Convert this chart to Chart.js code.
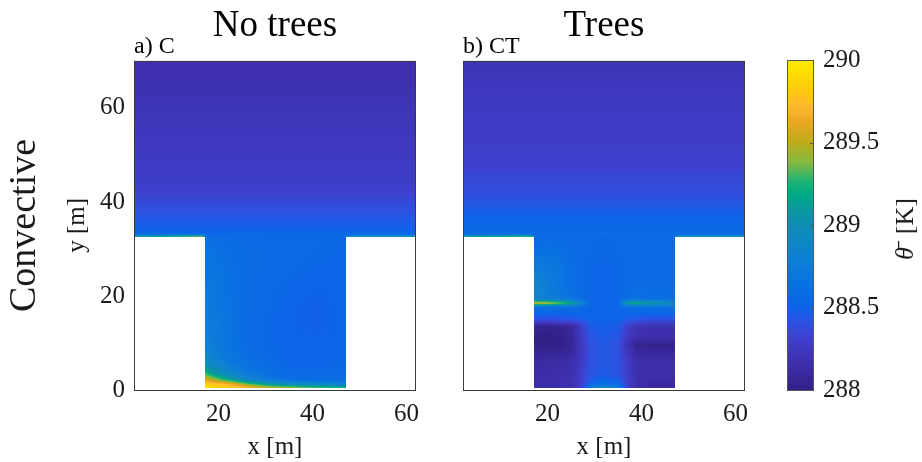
<!DOCTYPE html>
<html>
<head>
<meta charset="utf-8">
<script src="https://cdn.jsdelivr.net/npm/chart.js@4.4.0/dist/chart.umd.min.js"></script>
<style>
html, body { margin: 0; padding: 0; background: #fff; }
#wrap { position: relative; width: 922px; height: 462px; overflow: hidden; }
#wrap canvas { position: absolute; left: 0; top: 0; }
#cblabel { position: absolute; left: 905px; top: 229px; transform: translate(-50%, -50%) rotate(-90deg);
  font: 26px 'Liberation Serif', serif; color: #1a1a1a; white-space: nowrap; }
</style>
</head>
<body>
<div id="wrap">
  <canvas id="panelC" width="922" height="462"></canvas>
  <canvas id="panelCT" width="922" height="462"></canvas>
  <canvas id="colorbar" width="922" height="462"></canvas>
  <div id="cblabel"><i>θ̄</i>&nbsp; [K]</div>
</div>
<script>
// --- data (potential temperature, K) ---
const xTicks = [20, 40, 60];
const yTicks = [0, 20, 40, 60];
const cbTicks = [288, 288.5, 289, 289.5, 290];

// above roof level (y from 32.5 to 70 m), full width
const upperX = [2, 16.5, 17.5, 32, 46.5, 47.5, 62];
const upperY = [32.5, 33.2, 34, 35.5, 37, 39, 41, 44, 48, 53, 58, 63, 67, 70];
const roofC  = [289.2, 289.55, 288.55, 288.55, 288.55, 289.0, 289.1];
const roofCT = [289.25, 289.45, 288.55, 288.55, 288.55, 289.05, 289.1];
const profileC  = [288.55, 288.49, 288.46, 288.43, 288.38, 288.33, 288.29, 288.27, 288.24, 288.22, 288.19, 288.17, 288.17];
const profileCT = [288.57, 288.54, 288.52, 288.49, 288.45, 288.4, 288.36, 288.31, 288.28, 288.27, 288.25, 288.22, 288.2];

// street canyon, no trees
const canyonXC = [17, 19, 22, 26, 31, 36, 41, 45, 47];
const canyonYC = [0.5, 1.2, 2.2, 3.5, 5, 7, 10, 14, 18, 22, 26, 30, 32.5];
const canyonC = [
  [289.95, 289.9, 289.85, 289.7, 289.5, 289.4, 289.3, 289.25, 289.2],
  [289.9, 289.8, 289.7, 289.4, 289.1, 288.95, 288.9, 288.85, 288.8],
  [289.6, 289.45, 289.2, 288.9, 288.7, 288.62, 288.6, 288.6, 288.6],
  [289.3, 289.1, 288.9, 288.72, 288.6, 288.55, 288.55, 288.55, 288.55],
  [289.05, 288.92, 288.78, 288.65, 288.57, 288.53, 288.53, 288.53, 288.55],
  [288.88, 288.8, 288.7, 288.6, 288.55, 288.5, 288.5, 288.52, 288.53],
  [288.8, 288.74, 288.66, 288.58, 288.53, 288.5, 288.5, 288.5, 288.52],
  [288.77, 288.72, 288.65, 288.58, 288.53, 288.5, 288.48, 288.5, 288.52],
  [288.75, 288.7, 288.64, 288.58, 288.54, 288.5, 288.48, 288.5, 288.52],
  [288.72, 288.68, 288.63, 288.58, 288.55, 288.52, 288.5, 288.5, 288.52],
  [288.68, 288.66, 288.62, 288.58, 288.56, 288.54, 288.52, 288.52, 288.52],
  [288.65, 288.63, 288.6, 288.58, 288.56, 288.55, 288.54, 288.53, 288.52],
  [288.6, 288.6, 288.58, 288.56, 288.55, 288.55, 288.54, 288.53, 288.52]
];

// street canyon, with trees
const canyonXCT = [17, 19, 22, 25, 27, 29, 32, 35, 37, 39, 42, 45, 47];
const canyonYCT = [0.5, 1.5, 3, 6, 8.5, 9.5, 11, 13.5, 15, 17.6, 18.5, 19.4, 22, 26, 30, 32.5];
const canyonCT = [
  [288.15, 288.15, 288.15, 288.18, 288.28, 288.7, 288.9, 288.75, 288.3, 288.15, 288.12, 288.12, 288.12],
  [288.15, 288.15, 288.15, 288.18, 288.27, 288.48, 288.58, 288.52, 288.3, 288.15, 288.12, 288.12, 288.12],
  [288.15, 288.15, 288.15, 288.18, 288.28, 288.42, 288.45, 288.42, 288.3, 288.17, 288.15, 288.15, 288.15],
  [288.12, 288.12, 288.13, 288.15, 288.25, 288.4, 288.45, 288.4, 288.28, 288.15, 288.15, 288.15, 288.15],
  [288.04, 288.03, 288.04, 288.08, 288.22, 288.4, 288.45, 288.4, 288.22, 288.1, 288.08, 288.08, 288.08],
  [288.01, 288.0, 288.01, 288.07, 288.22, 288.4, 288.45, 288.4, 288.2, 288.04, 288.02, 288.02, 288.03],
  [288.0, 287.99, 288.0, 288.06, 288.24, 288.42, 288.46, 288.42, 288.25, 288.15, 288.14, 288.14, 288.15],
  [288.05, 288.03, 288.04, 288.1, 288.27, 288.45, 288.48, 288.45, 288.3, 288.2, 288.18, 288.18, 288.18],
  [288.4, 288.4, 288.4, 288.42, 288.45, 288.5, 288.5, 288.5, 288.45, 288.42, 288.4, 288.4, 288.4],
  [288.65, 288.63, 288.6, 288.6, 288.58, 288.52, 288.5, 288.52, 288.6, 288.62, 288.62, 288.62, 288.62],
  [289.55, 289.5, 289.4, 289.2, 288.9, 288.55, 288.5, 288.55, 289.15, 289.2, 289.1, 289.0, 288.9],
  [288.82, 288.8, 288.74, 288.66, 288.6, 288.52, 288.5, 288.52, 288.62, 288.64, 288.62, 288.6, 288.6],
  [288.9, 288.8, 288.68, 288.6, 288.56, 288.52, 288.5, 288.52, 288.56, 288.58, 288.57, 288.57, 288.58],
  [288.75, 288.72, 288.68, 288.6, 288.55, 288.53, 288.52, 288.53, 288.55, 288.56, 288.56, 288.56, 288.57],
  [288.6, 288.62, 288.62, 288.58, 288.55, 288.54, 288.53, 288.54, 288.55, 288.55, 288.55, 288.55, 288.56],
  [288.55, 288.56, 288.56, 288.55, 288.54, 288.54, 288.53, 288.54, 288.54, 288.54, 288.54, 288.54, 288.54]
];

// --- colour map (parula-like, as in the colour bar) ---
const cmap = [
  [0.0, 50, 32, 135], [0.085, 62, 48, 175], [0.155, 62, 64, 205], [0.21, 42, 84, 228],
  [0.25, 12, 100, 232], [0.31, 10, 112, 226], [0.41, 15, 130, 210], [0.5, 12, 142, 180],
  [0.54, 12, 150, 162], [0.59, 0, 168, 132], [0.63, 25, 180, 118], [0.69, 135, 186, 64],
  [0.75, 190, 172, 26], [0.815, 238, 168, 36], [0.86, 254, 184, 48], [0.92, 254, 206, 10],
  [1.0, 250, 236, 0]
];
const vMin = 288, vMax = 290;

function colorFor(v) {
  const t = Math.min(1, Math.max(0, (v - vMin) / (vMax - vMin)));
  let k = 0;
  while (k < cmap.length - 2 && t > cmap[k + 1][0]) k++;
  const a = cmap[k], b = cmap[k + 1];
  const f = (t - a[0]) / (b[0] - a[0]);
  return [a[1] + (b[1] - a[1]) * f, a[2] + (b[2] - a[2]) * f, a[3] + (b[3] - a[3]) * f];
}

function locate(arr, v) {
  let k = 0;
  while (k < arr.length - 2 && v > arr[k + 1]) k++;
  const f = Math.min(1, Math.max(0, (v - arr[k]) / (arr[k + 1] - arr[k])));
  return [k, f];
}

// shade one grid (bilinear between nodes) using the chart's scales
function drawGrid(ctx, sx, sy, gx, gy, vals) {
  const x0 = Math.round(sx.getPixelForValue(gx[0]));
  const x1 = Math.round(sx.getPixelForValue(gx[gx.length - 1]));
  const y0 = Math.round(sy.getPixelForValue(gy[gy.length - 1]));
  const y1 = Math.round(sy.getPixelForValue(gy[0]));
  const w = x1 - x0, h = y1 - y0;
  const off = document.createElement('canvas');
  off.width = w; off.height = h;
  const octx = off.getContext('2d');
  const img = octx.createImageData(w, h);
  for (let j = 0; j < h; j++) {
    const [r, fy] = locate(gy, sy.getValueForPixel(y0 + j + 0.5));
    for (let i = 0; i < w; i++) {
      const [c, fx] = locate(gx, sx.getValueForPixel(x0 + i + 0.5));
      const lo = vals[r][c] * (1 - fx) + vals[r][c + 1] * fx;
      const hi = vals[r + 1][c] * (1 - fx) + vals[r + 1][c + 1] * fx;
      const col = colorFor(lo * (1 - fy) + hi * fy);
      const k = (j * w + i) * 4;
      img.data[k] = col[0]; img.data[k + 1] = col[1]; img.data[k + 2] = col[2]; img.data[k + 3] = 255;
    }
  }
  octx.putImageData(img, 0, 0);
  ctx.drawImage(off, x0, y0);
}

function fieldPlugin(grids) {
  return {
    id: 'field',
    afterDraw(chart) {
      const {ctx, chartArea: a, scales} = chart;
      grids.forEach(g => drawGrid(ctx, scales.x, scales.y, g.x, g.y, g.v));
      ctx.save();
      ctx.strokeStyle = '#3a3a3a';
      ctx.lineWidth = 1;
      ctx.strokeRect(a.left + 0.5, a.top + 0.5, a.right - a.left - 1, a.bottom - a.top);
      ctx.restore();
    }
  };
}

const colorbarPlugin = {
  id: 'cbar',
  afterDraw(chart) {
    const {ctx, chartArea: a, scales} = chart;
    for (let py = Math.round(a.top); py < Math.round(a.bottom); py++) {
      const c = colorFor(scales.y.getValueForPixel(py + 0.5));
      ctx.fillStyle = `rgb(${c[0]|0},${c[1]|0},${c[2]|0})`;
      ctx.fillRect(a.left, py, a.right - a.left, 1);
    }
    ctx.save();
    ctx.strokeStyle = '#555';
    ctx.lineWidth = 1;
    ctx.strokeRect(a.left + 0.5, a.top + 0.5, a.right - a.left - 1, a.bottom - a.top);
    ctx.beginPath();
    cbTicks.slice(1, -1).forEach(v => {
      const py = Math.round(scales.y.getPixelForValue(v)) + 0.5;
      ctx.moveTo(a.right - 4, py); ctx.lineTo(a.right, py);
    });
    ctx.stroke();
    ctx.restore();
  }
};

Chart.defaults.font.family = "'Liberation Serif', serif";
Chart.defaults.color = '#1a1a1a';

const upperRowsC = [roofC, ...profileC.map(v => upperX.map(() => v))];
const upperRowsCT = [roofCT, ...profileCT.map(v => upperX.map(() => v))];

const noGrid = {display: false, drawTicks: false};

function xAxis() {
  return {
    type: 'linear', min: 2, max: 62,
    afterBuildTicks: s => { s.ticks = xTicks.map(v => ({value: v})); },
    afterFit: s => { s.height = 72; },
    grid: noGrid, border: {display: false},
    ticks: {padding: 9, font: {size: 25}},
    title: {display: true, text: 'x [m]', font: {size: 25}, padding: {top: 0, bottom: 0}}
  };
}

function titles(main, sub) {
  return {
    title: {display: true, text: main, fullSize: false, color: '#000',
      font: {size: 37, weight: 'normal', lineHeight: 0.6}, padding: {top: 15, bottom: 0}},
    subtitle: {display: true, text: sub, fullSize: false, align: 'start', color: '#000',
      font: {size: 24, lineHeight: 0.8}, padding: {top: 0, bottom: 4.5}},
    legend: {display: false},
    tooltip: {enabled: false}
  };
}

// a) no trees
new Chart(document.getElementById('panelC'), {
  type: 'scatter',
  data: {datasets: []},
  options: {
    responsive: false, animation: false, devicePixelRatio: 1,
    layout: {padding: {left: 0, right: 506, top: 0, bottom: 0}},
    plugins: titles('No trees', 'a) C'),
    scales: {
      x: xAxis(),
      y: {
        type: 'linear', min: 0, max: 70, weight: 0,
        afterBuildTicks: s => { s.ticks = yTicks.map(v => ({value: v})); },
        afterFit: s => { s.width = 84; },
        grid: noGrid, border: {display: false},
        ticks: {padding: 9, font: {size: 25}},
        title: {display: true, text: 'y [m]', font: {size: 25}, padding: {top: 12, bottom: 0}}
      },
      y2: {
        type: 'linear', position: 'left', min: 0, max: 70, weight: 1,
        afterFit: s => { s.width = 50; },
        grid: noGrid, border: {display: false},
        ticks: {display: false},
        title: {display: true, text: 'Convective', font: {size: 38}, padding: {top: 2, bottom: 0}}
      }
    }
  },
  plugins: [fieldPlugin([
    {x: upperX, y: upperY, v: upperRowsC},
    {x: canyonXC, y: canyonYC, v: canyonC}
  ])]
});

// b) trees
new Chart(document.getElementById('panelCT'), {
  type: 'scatter',
  data: {datasets: []},
  options: {
    responsive: false, animation: false, devicePixelRatio: 1,
    layout: {padding: {left: 463, right: 177, top: 0, bottom: 0}},
    plugins: titles('Trees', 'b) CT'),
    scales: {
      x: xAxis(),
      y: {type: 'linear', min: 0, max: 70, display: false}
    }
  },
  plugins: [fieldPlugin([
    {x: upperX, y: upperY, v: upperRowsCT},
    {x: canyonXCT, y: canyonYCT, v: canyonCT}
  ])]
});

// colour bar
new Chart(document.getElementById('colorbar'), {
  type: 'scatter',
  data: {datasets: []},
  options: {
    responsive: false, animation: false, devicePixelRatio: 1,
    layout: {padding: {left: 787, right: 0, top: 60, bottom: 72}},
    plugins: {legend: {display: false}, tooltip: {enabled: false}},
    scales: {
      x: {type: 'linear', min: 0, max: 1, display: false},
      y: {
        type: 'linear', position: 'right', min: vMin, max: vMax,
        afterBuildTicks: s => { s.ticks = cbTicks.map(v => ({value: v})); },
        afterFit: s => { s.width = 108; },
        grid: noGrid, border: {display: false},
        ticks: {padding: 9, font: {size: 25}, callback: v => String(v)}
      }
    }
  },
  plugins: [colorbarPlugin]
});
</script>
</body>
</html>
